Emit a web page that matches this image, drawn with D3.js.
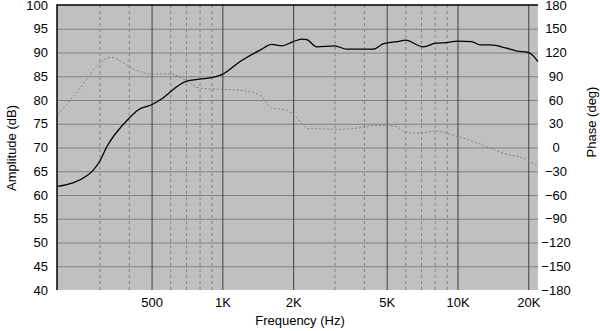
<!DOCTYPE html>
<html>
<head>
<meta charset="utf-8">
<script src="https://cdn.jsdelivr.net/npm/d3@7"></script>
<style>
  body { margin: 0; background: #fff; }
  svg { display: block; font-family: Arial, "Liberation Sans", sans-serif; }
</style>
</head>
<body>
<svg id="chart" width="600" height="331"></svg>
<script>
// amplitude response (Hz, dB)
const ampFreq = [200, 268, 300, 323, 400, 438, 500, 559, 600, 700, 800, 900, 1000, 1190, 1446, 1622, 1790, 2000, 2177, 2285, 2520, 3000, 3380, 4000, 4375, 4825, 5700, 6000, 7160, 8000, 9000, 10000, 11500, 12480, 13760, 16200, 17870, 20000, 20700, 22000];
const ampDb = [61.8, 64.2, 67, 70.2, 76.1, 77.9, 79, 80.4, 81.7, 83.9, 84.4, 84.7, 85.4, 88.1, 90.5, 91.7, 91.4, 92.3, 92.8, 92.7, 91.2, 91.4, 90.7, 90.7, 90.7, 91.8, 92.4, 92.6, 91.2, 91.9, 92.1, 92.4, 92.3, 91.6, 91.6, 90.9, 90.3, 90.0, 89.6, 88.1];

// phase response (Hz, deg)
const phaseFreq = [200, 250, 300, 338, 373, 400, 447, 490, 600, 680, 805, 1078, 1248, 1446, 1622, 1878, 2050, 2320, 2603, 3065, 3606, 4387, 5000, 5514, 6000, 7000, 8000, 9000, 10000, 11700, 13760, 16200, 19060, 22000];
const phaseDeg = [42, 76, 106, 114, 108, 102, 96, 93, 93, 87, 75, 73, 71.5, 66, 50, 47, 39, 24, 23.5, 23, 24, 27.6, 28, 26.5, 19, 18, 21, 18, 14, 7.5, -1, -8.5, -13.5, -24];

const majorFreqs = [500, 1000, 2000, 5000, 10000, 20000];
const minorFreqs = [300, 400, 600, 700, 800, 900, 3000, 4000, 6000, 7000, 8000, 9000];
const ampTicks = d3.range(40, 101, 5);
const phaseTicks = d3.range(-180, 181, 30);

const M = { left: 57, right: 538, top: 5, bottom: 290 };
const FONT = 'Arial, "Liberation Sans", sans-serif';

const svg = d3.select('#chart');
const x = d3.scaleLog().domain([200, 22000]).range([M.left + 1, M.right]);
const yAmp = d3.scaleLinear().domain([40, 100]).range([M.bottom, M.top]);
const yPhase = d3.scaleLinear().domain([-180, 180]).range([M.bottom, M.top]);

svg.append('rect')
  .attr('x', M.left).attr('y', M.top)
  .attr('width', M.right - M.left).attr('height', M.bottom - M.top)
  .attr('fill', '#c0c0c0');

// horizontal grid
svg.append('g')
  .attr('transform', `translate(${M.left},0)`)
  .call(d3.axisLeft(yAmp).tickValues(ampTicks.slice(1, -1)).tickSize(-(M.right - M.left)).tickFormat(''))
  .call(g => g.select('.domain').remove())
  .selectAll('line').attr('stroke', '#808080');

// minor vertical grid (dashed)
svg.append('g')
  .attr('transform', `translate(0,${M.bottom})`)
  .call(d3.axisBottom(x).tickValues(minorFreqs).tickSize(-(M.bottom - M.top)).tickFormat(''))
  .call(g => g.select('.domain').remove())
  .selectAll('line').attr('stroke', '#808080').attr('stroke-dasharray', '3,3');

// major vertical grid
svg.append('g')
  .attr('transform', `translate(0,${M.bottom})`)
  .call(d3.axisBottom(x).tickValues(majorFreqs).tickSize(-(M.bottom - M.top)).tickFormat(''))
  .call(g => g.select('.domain').remove())
  .selectAll('line').attr('stroke', '#404040');

// sunken frame
svg.append('path').attr('d', `M${M.left},${M.bottom}V${M.top}H${M.right}`).attr('fill', 'none').attr('stroke', '#000').attr('stroke-width', 1.5);
svg.append('path').attr('d', `M${M.left},${M.bottom + 0.5}H${M.right + 0.5}V${M.top}`).attr('fill', 'none').attr('stroke', '#fff').attr('stroke-width', 1);

// phase curve
svg.append('path')
  .datum(phaseFreq.map((f, i) => [f, phaseDeg[i]]))
  .attr('fill', 'none')
  .attr('stroke', '#808080')
  .attr('stroke-width', 1)
  .attr('stroke-dasharray', '2,2')
  .attr('d', d3.line().x(d => x(d[0])).y(d => yPhase(d[1])).curve(d3.curveMonotoneX));

// amplitude curve
svg.append('path')
  .datum(ampFreq.map((f, i) => [f, ampDb[i]]))
  .attr('fill', 'none')
  .attr('stroke', '#000')
  .attr('stroke-width', 1.3)
  .attr('d', d3.line().x(d => x(d[0])).y(d => yAmp(d[1])).curve(d3.curveMonotoneX));

// tick labels
svg.append('g')
  .attr('transform', `translate(${M.left},0)`)
  .call(d3.axisLeft(yAmp).tickValues(ampTicks).tickSize(0).tickPadding(9))
  .call(g => g.select('.domain').remove())
  .selectAll('text').attr('font-size', 13).attr('fill', '#000').attr('font-family', FONT);

svg.append('g')
  .attr('transform', `translate(${M.right},0)`)
  .call(d3.axisRight(yPhase).tickValues(phaseTicks).tickSize(0))
  .call(g => g.select('.domain').remove())
  .selectAll('text')
  .attr('x', 18).attr('text-anchor', 'middle')
  .attr('font-size', 13).attr('fill', '#000').attr('font-family', FONT);

svg.append('g')
  .attr('transform', `translate(0,${M.bottom})`)
  .call(d3.axisBottom(x).tickValues(majorFreqs).tickSize(0).tickPadding(8)
    .tickFormat(d => d >= 1000 ? (d / 1000) + 'K' : d))
  .call(g => g.select('.domain').remove())
  .selectAll('text').attr('font-size', 13).attr('fill', '#000').attr('font-family', FONT);

// axis titles
svg.append('text')
  .attr('x', 300).attr('y', 325)
  .attr('text-anchor', 'middle').attr('font-size', 13)
  .text('Frequency (Hz)');

svg.append('text')
  .attr('transform', 'translate(16,148) rotate(-90)')
  .attr('text-anchor', 'middle').attr('font-size', 13)
  .text('Amplitude (dB)');

svg.append('text')
  .attr('transform', 'translate(596,122) rotate(-90)')
  .attr('text-anchor', 'middle').attr('font-size', 13)
  .text('Phase (deg)');
</script>
</body>
</html>
